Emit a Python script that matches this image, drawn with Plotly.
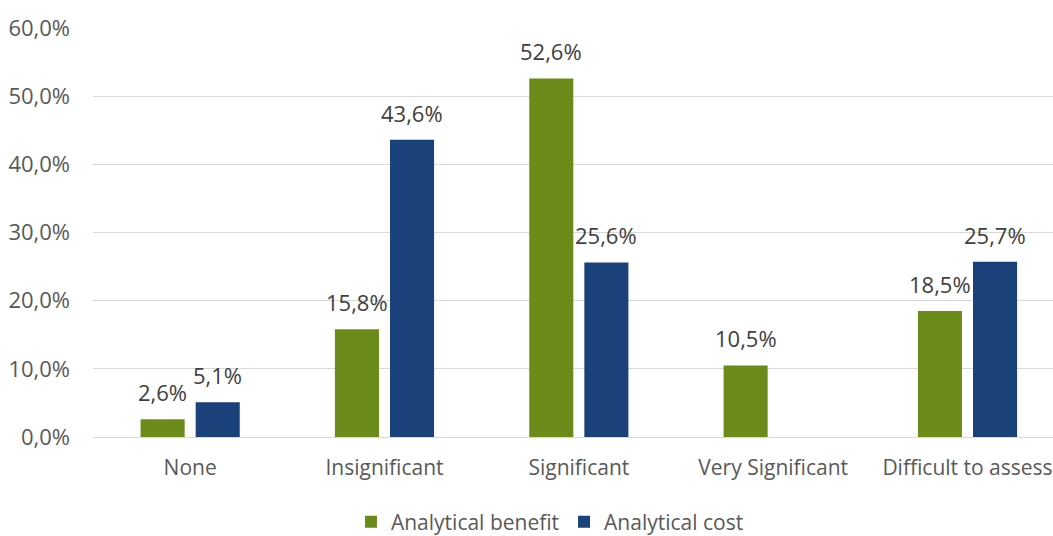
import plotly.graph_objects as go

categories = ["None", "Insignificant", "Significant", "Very Significant", "Difficult to assess"]
benefit = [2.6, 15.8, 52.6, 10.5, 18.5]
cost = [5.1, 43.6, 25.6, None, 25.7]
y_ticks = [0, 10, 20, 30, 40, 50, 60]
y_ticktext = ["0,0%", "10,0%", "20,0%", "30,0%", "40,0%", "50,0%", "60,0%"]

FONT = "Open Sans"
series = [("Analytical benefit", benefit, "#6b8c1a", -27.5), ("Analytical cost", cost, "#1a4179", 27.5)]

fig = go.Figure()
for name, vals, col, dx in series:
    fig.add_trace(go.Bar(name=name, x=categories, y=vals,
                         marker=dict(color=col, line=dict(width=0))))
    for c, v in zip(categories, vals):
        if v is None:
            continue
        fig.add_annotation(x=c, y=v, text=f"{v:.1f}%".replace(".", ","), showarrow=False,
                           xshift=dx, yshift=27, yanchor="middle", xanchor="center",
                           font=dict(family=FONT, size=22, color="#404040"))

fig.update_layout(
    width=1053, height=536,
    margin=dict(l=93, r=0, t=28, b=99, autoexpand=False),
    paper_bgcolor="white", plot_bgcolor="white",
    barmode="group", bargap=0.433, bargroupgap=0.2,
    font=dict(family=FONT, size=21, color="#595959"),
    showlegend=True,
    legend=dict(orientation="h", xref="paper", yref="paper", x=0.476, y=-0.208,
                xanchor="center", yanchor="middle", font=dict(size=21, color="#595959"),
                itemwidth=30, traceorder="normal"),
    xaxis=dict(range=[-0.5, 4.44], showgrid=False, showline=True, linecolor="#d9d9d9",
               linewidth=1, ticks="", automargin=False, ticklabelstandoff=12,
               tickfont=dict(size=21, color="#595959")),
    yaxis=dict(range=[0, 60], tickvals=y_ticks, ticktext=y_ticktext,
               showgrid=True, gridcolor="#d9d9d9", gridwidth=1, zeroline=False, automargin=False,
               showline=False, ticklabelstandoff=22, tickfont=dict(size=22, color="#595959")),
)
fig.write_html("out.html", config={"displayModeBar": False},
               post_script="document.body.style.margin='0';document.body.style.overflow='hidden';")
